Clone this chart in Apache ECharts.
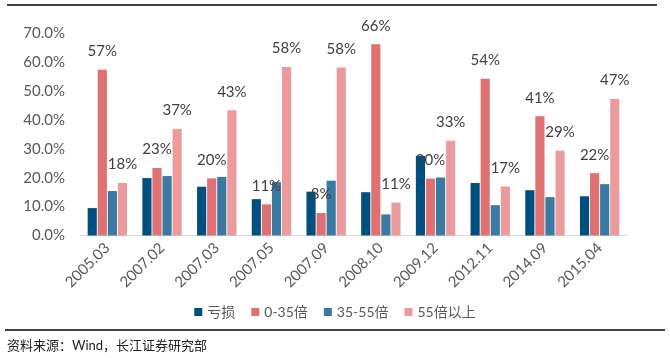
<!DOCTYPE html>
<html><head><meta charset="utf-8">
<script src="https://cdn.jsdelivr.net/npm/echarts@6/dist/echarts.min.js"></script>
<style>html,body{margin:0;padding:0;background:#fff}#c{width:670px;height:358px}</style>
</head><body><div id="c"></div>
<script>
var categories = ['2005.03','2007.02','2007.03','2007.05','2007.09','2008.10','2009.12','2012.11','2014.09','2015.04'];
var seriesNames = ['亏损','0-35倍','35-55倍','55倍以上'];
var loss = [9.5, 19.9, 16.9, 12.6, 15.2, 15.0, 27.6, 18.2, 15.7, 13.6];
var pe0_35 = [57.4, 23.4, 19.8, 10.8, 7.8, 66.3, 19.7, 54.3, 41.3, 21.6];
var pe35_55 = [15.4, 20.6, 20.3, 18.5, 19.0, 7.3, 20.1, 10.5, 13.3, 17.8];
var pe55up = [18.2, 36.9, 43.4, 58.4, 58.2, 11.4, 32.8, 17.0, 29.4, 47.3];
var yTicks = [0, 10, 20, 30, 40, 50, 60, 70];
var sourceText = '资料来源：Wind，长江证券研究部';

var colors = ['#00507f', '#e07173', '#3a79a1', '#eb9b9c'];
var font = 'Lato, "Noto Sans CJK SC", sans-serif';
var chart = echarts.init(document.getElementById('c'));
function mk(name, data, color, withLabel) {
  return {
    name: name, type: 'bar', data: data, barGap: '10%', barCategoryGap: '28%',
    itemStyle: { color: color },
    label: {
      show: withLabel, position: 'top', distance: 11,
      formatter: function (p) { return Math.round(p.value) + '%'; },
      color: '#404040', fontSize: 15, fontFamily: font
    }
  };
}
chart.setOption({
  animation: false,
  textStyle: { fontFamily: font },
  grid: { left: 80, right: 43, top: 33.5, bottom: 122.5, containLabel: false },
  legend: {
    data: seriesNames, left: 'center', top: 305, itemWidth: 8, itemHeight: 8, itemGap: 16,
    icon: 'rect', textStyle: { color: '#595959', fontSize: 14, fontFamily: font }, padding: [0, 0, 0, 24]
  },
  xAxis: {
    type: 'category', data: categories,
    axisLine: { lineStyle: { color: '#d9d9d9', width: 1 } },
    axisTick: { show: false },
    axisLabel: { rotate: 45, color: '#595959', fontSize: 15, margin: 10, interval: 0, fontFamily: font }
  },
  yAxis: {
    type: 'value', min: yTicks[0], max: yTicks[yTicks.length - 1], interval: 10,
    axisLine: { show: false }, axisTick: { show: false }, splitLine: { show: false },
    axisLabel: { color: '#595959', fontSize: 15, margin: 15, fontFamily: font,
      formatter: function (v) { return v.toFixed(1) + '%'; } }
  },
  series: [
    mk(seriesNames[0], loss, colors[0], false),
    mk(seriesNames[1], pe0_35, colors[1], true),
    mk(seriesNames[2], pe35_55, colors[2], false),
    mk(seriesNames[3], pe55up, colors[3], true)
  ],
  graphic: [
    { type: 'line', shape: { x1: 7, y1: 5, x2: 657, y2: 5 }, style: { stroke: '#000', lineWidth: 1.5 } },
    { type: 'line', shape: { x1: 5, y1: 330, x2: 665, y2: 330 }, style: { stroke: '#000', lineWidth: 1.5 } },
    { type: 'text', left: 7, top: 339, style: { text: sourceText, fill: '#222', fontSize: 13, fontFamily: font } }
  ]
});
</script></body></html>
